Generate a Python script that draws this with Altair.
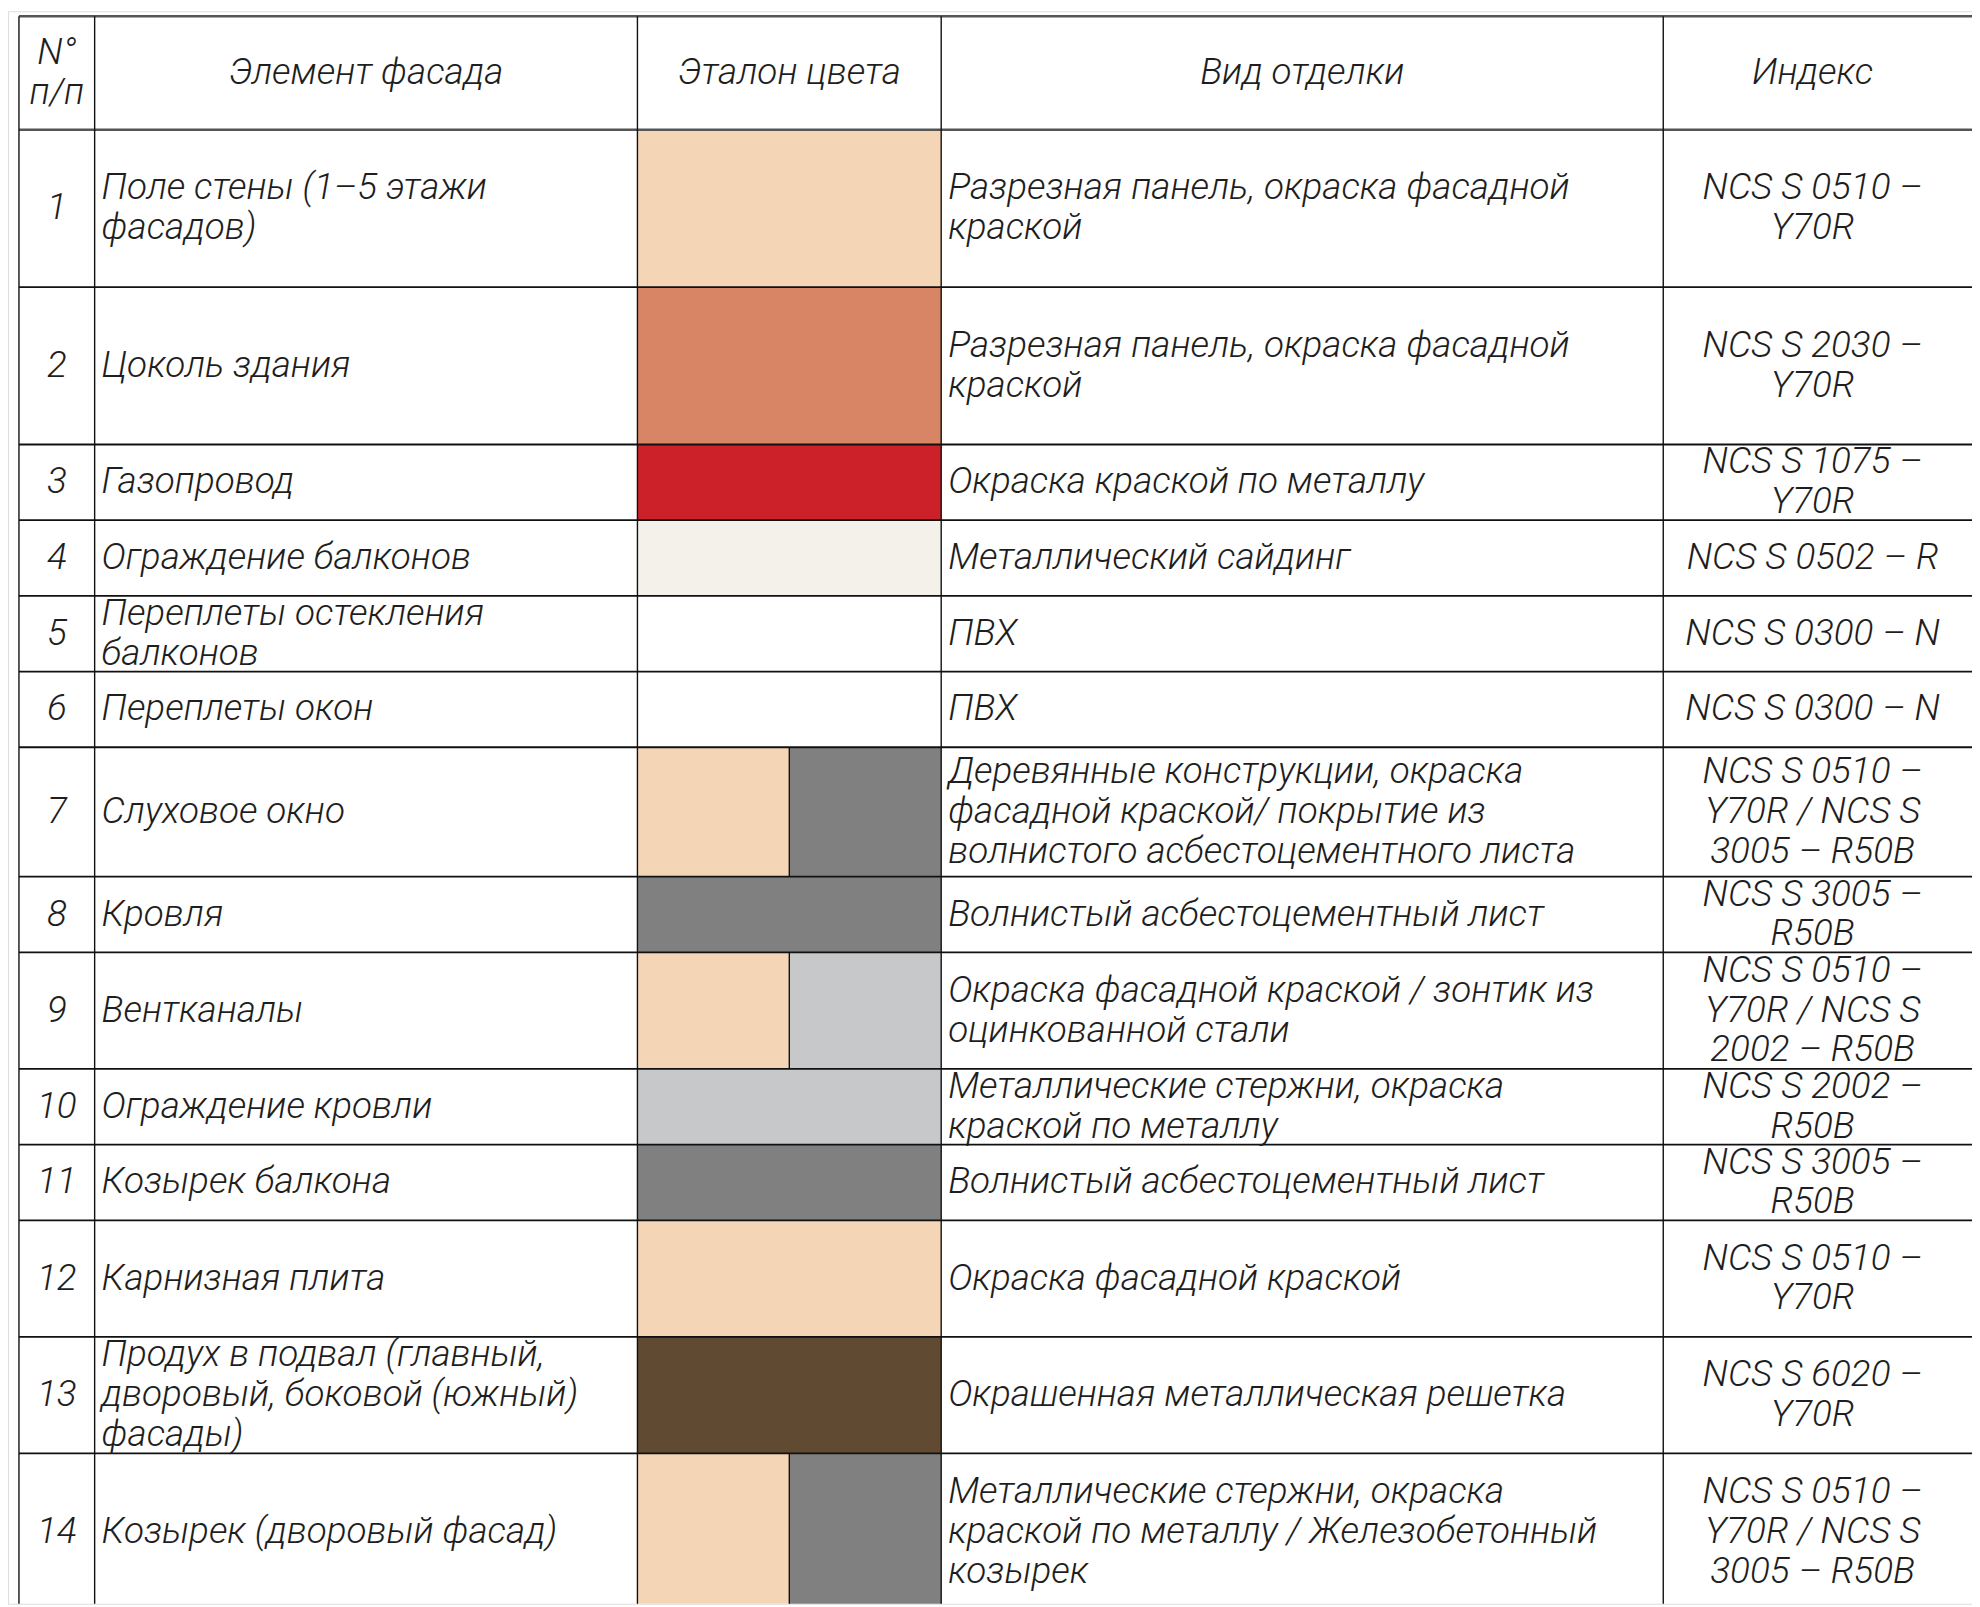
import altair as alt

# ---------------- data ----------------
headers = [["N°", "п/п"], ["Элемент фасада"], ["Эталон цвета"], ["Вид отделки"], ["Индекс"]]

nums = [str(i) for i in range(1, 15)]

elements = [
    ["Поле стены (1–5 этажи", "фасадов)"],
    ["Цоколь здания"],
    ["Газопровод"],
    ["Ограждение балконов"],
    ["Переплеты остекления", "балконов"],
    ["Переплеты окон"],
    ["Слуховое окно"],
    ["Кровля"],
    ["Вентканалы"],
    ["Ограждение кровли"],
    ["Козырек балкона"],
    ["Карнизная плита"],
    ["Продух в подвал (главный,", "дворовый, боковой (южный)", "фасады)"],
    ["Козырек (дворовый фасад)"],
]

finishes = [
    ["Разрезная панель, окраска фасадной", "краской"],
    ["Разрезная панель, окраска фасадной", "краской"],
    ["Окраска краской по металлу"],
    ["Металлический сайдинг"],
    ["ПВХ"],
    ["ПВХ"],
    ["Деревянные конструкции, окраска", "фасадной краской/ покрытие из", "волнистого асбестоцементного листа"],
    ["Волнистый асбестоцементный лист"],
    ["Окраска фасадной краской / зонтик из", "оцинкованной стали"],
    ["Металлические стержни, окраска", "краской по металлу"],
    ["Волнистый асбестоцементный лист"],
    ["Окраска фасадной краской"],
    ["Окрашенная металлическая решетка"],
    ["Металлические стержни, окраска", "краской по металлу / Железобетонный", "козырек"],
]

indices = [
    ["NCS S 0510 –", "Y70R"],
    ["NCS S 2030 –", "Y70R"],
    ["NCS S 1075 –", "Y70R"],
    ["NCS S 0502 – R"],
    ["NCS S 0300 – N"],
    ["NCS S 0300 – N"],
    ["NCS S 0510 –", "Y70R / NCS S", "3005 – R50B"],
    ["NCS S 3005 –", "R50B"],
    ["NCS S 0510 –", "Y70R / NCS S", "2002 – R50B"],
    ["NCS S 2002 –", "R50B"],
    ["NCS S 3005 –", "R50B"],
    ["NCS S 0510 –", "Y70R"],
    ["NCS S 6020 –", "Y70R"],
    ["NCS S 0510 –", "Y70R / NCS S", "3005 – R50B"],
]

# swatch colours: left half / right half (same when a single colour)
swatch_left = ["#F4D6B6", "#D88565", "#CD2129", "#F4F1EA", "#FFFFFF", "#FFFFFF", "#F4D6B6",
               "#808080", "#F4D6B6", "#C7C8CA", "#808080", "#F4D6B6", "#604A31", "#F4D6B6"]
swatch_right = ["#F4D6B6", "#D88565", "#CD2129", "#F4F1EA", "#FFFFFF", "#FFFFFF", "#808080",
                "#808080", "#C7C8CA", "#C7C8CA", "#808080", "#F4D6B6", "#604A31", "#808080"]

# ---------------- layout (table geometry) ----------------
col_edges = [19, 95, 640, 945, 1670, 1995]
table_top = 13
header_h = 114
row_heights = [158, 158, 76, 76, 76, 76, 130, 76, 117, 76, 76, 117, 117, 158]
index_center_offset = 150
text_pad = 7
FONT = "Roboto"
FSIZE = 37
LH = 40
TXT = "#1e1e1e"

row_tops = [table_top + header_h]
for h in row_heights:
    row_tops.append(row_tops[-1] + h)

# rectangles (swatches)
rects = []
mid = (col_edges[2] + col_edges[3]) / 2
for i in range(14):
    y0, y1 = row_tops[i], row_tops[i + 1]
    if swatch_left[i] == swatch_right[i]:
        rects.append({"x": col_edges[2], "x2": col_edges[3], "y": y0, "y2": y1, "fill": swatch_left[i]})
    else:
        rects.append({"x": col_edges[2], "x2": mid, "y": y0, "y2": y1, "fill": swatch_left[i]})
        rects.append({"x": mid, "x2": col_edges[3], "y": y0, "y2": y1, "fill": swatch_right[i]})

# lines
lines = []
for k, yv in enumerate([table_top] + row_tops):
    lines.append({"x": col_edges[0], "x2": col_edges[-1], "y": yv, "y2": yv,
                  "c": "#555555" if k < 2 else "#111111", "w": 2.4 if k < 2 else 1.8})
bottom = row_tops[-1]
for xv in col_edges:
    lines.append({"x": xv, "x2": xv, "y": table_top, "y2": bottom, "c": "#111111", "w": 1.4})
for i in range(14):
    if swatch_left[i] != swatch_right[i]:
        lines.append({"x": mid, "x2": mid, "y": row_tops[i], "y2": row_tops[i + 1],
                      "c": "#111111", "w": 1.4})


def block_y(cy, n):
    # first-line position so that a block of n lines is centred on cy
    return cy - (n - 1) * LH / 2


# texts
centered = []
left = []
hy = table_top + header_h / 2
centers = [(col_edges[0] + col_edges[1]) / 2, (col_edges[1] + col_edges[2]) / 2,
           (col_edges[2] + col_edges[3]) / 2, (col_edges[3] + col_edges[4]) / 2,
           col_edges[4] + index_center_offset]
for j, h in enumerate(headers):
    centered.append({"x": centers[j], "y": block_y(hy, len(h)), "t": h})
for i in range(14):
    cy = (row_tops[i] + row_tops[i + 1]) / 2
    centered.append({"x": centers[0], "y": cy, "t": [nums[i]]})
    centered.append({"x": centers[4], "y": block_y(cy, len(indices[i])), "t": indices[i]})
    left.append({"x": col_edges[1] + text_pad, "y": block_y(cy, len(elements[i])), "t": elements[i]})
    left.append({"x": col_edges[3] + text_pad, "y": block_y(cy, len(finishes[i])), "t": finishes[i]})

# ---------------- chart ----------------
W, H = 1972, 1599
xs = alt.Scale(domain=[8, 1980], nice=False, zero=False)
ys = alt.Scale(domain=[8, 1607], nice=False, zero=False, reverse=True)

rect_layer = alt.Chart(alt.Data(values=rects)).mark_rect(clip=True).encode(
    x=alt.X("x:Q", scale=xs, axis=None),
    x2="x2:Q",
    y=alt.Y("y:Q", scale=ys, axis=None),
    y2="y2:Q",
    fill=alt.Fill("fill:N", scale=None),
)

line_layer = alt.Chart(alt.Data(values=lines)).mark_rule(clip=True).encode(
    x=alt.X("x:Q", scale=xs, axis=None),
    x2="x2:Q",
    y=alt.Y("y:Q", scale=ys, axis=None),
    y2="y2:Q",
    color=alt.Color("c:N", scale=None),
    strokeWidth=alt.StrokeWidth("w:Q", scale=None),
)


def text_layer(vals, align):
    return alt.Chart(alt.Data(values=vals)).mark_text(
        align=align, baseline="middle", font=FONT, fontSize=FSIZE, fontStyle="italic",
        fontWeight=300, lineHeight=LH, color=TXT, clip=True
    ).encode(
        x=alt.X("x:Q", scale=xs, axis=None),
        y=alt.Y("y:Q", scale=ys, axis=None),
        text="t:N",
    )


chart = alt.layer(
    rect_layer, line_layer, text_layer(centered, "center"), text_layer(left, "left")
).properties(
    width=W, height=H, padding=0, autosize=alt.AutoSizeParams(type="none")
).configure_view(stroke=None).configure(background="white")

chart.save("out.html", embed_options={"renderer": "svg", "actions": False})
